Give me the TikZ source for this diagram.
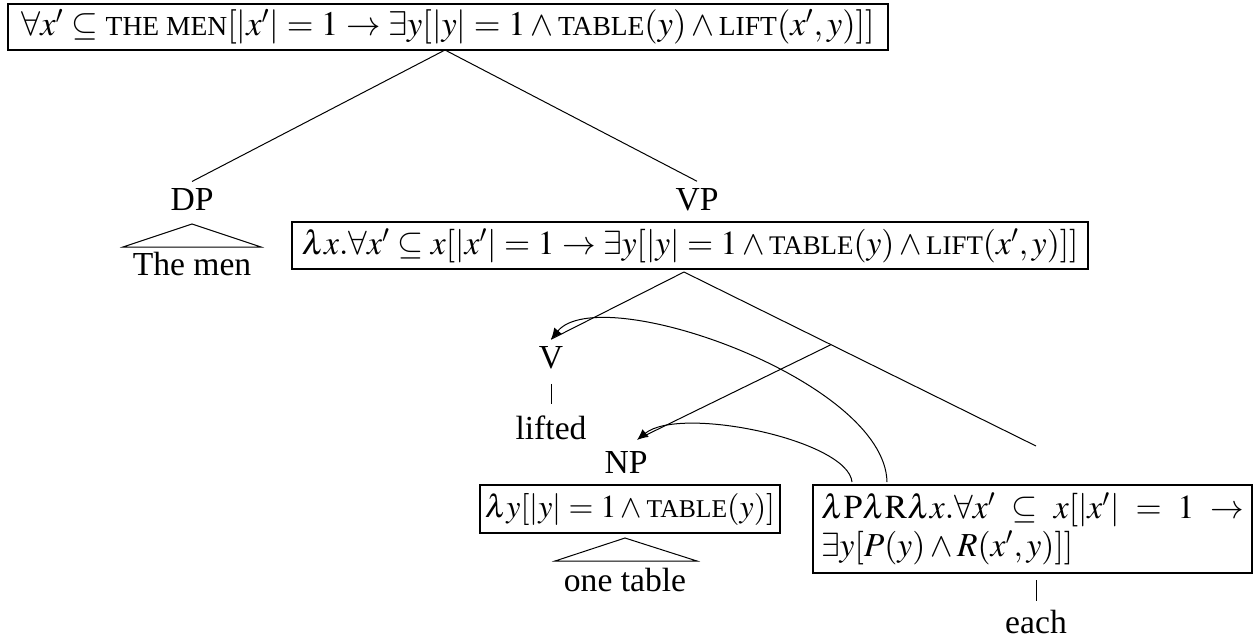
\documentclass[tikz,border=0pt]{standalone}
\usepackage{mathptmx}
\usepackage[no-math]{fontspec}
\setmainfont{Liberation Serif}
\usetikzlibrary{arrows.meta,calc}
\newcommand{\smc}[1]{\mbox{\fontsize{0.8\fsz}{15}\selectfont #1}}
\newdimen\fsz
\fsz=16.8pt
\begin{document}
\begin{tikzpicture}[x=0.5pt,y=-0.5pt,
  font=\fontsize{16.8}{19.5}\selectfont,
  every path/.style={line width=0.5pt},
  fbox/.style={draw, line width=0.55pt, inner sep=0pt, outer sep=0pt},
  lbl/.style={inner xsep=0pt, inner ysep=3.5pt},
  arr/.style={-{Latex[length=5.5pt,width=5pt]}, line width=0.5pt}]
\useasboundingbox (0,0) rectangle (1257,639);

% top box
\node[fbox, minimum width=440pt, minimum height=23pt] (top) at (448,27)
  {\fsz=17.2pt\fontsize{17.2}{19.5}\selectfont
   $\forall x' \subseteq \smc{THE MEN}[|x'| = 1 \to \exists y[|y| = 1 \wedge \smc{TABLE}(y) \wedge \smc{LIFT}(x',y)]]$};
\coordinate (topapex) at (445,50);

\node[lbl] (DP) at (192,200) {DP};
\node[lbl] (VP) at (697,200) {VP};
\draw (topapex) -- (DP.north);
\draw (topapex) -- (VP.north);

% DP triangle
\draw (192,224) -- (123,247) -- (261,247) -- cycle;
\node[lbl] (themen) at (192,264) {The men};

% VP box
\node[fbox, minimum width=398pt, minimum height=23.5pt] (vpbox) at (690,245.5)
  {$\lambda x.\forall x' \subseteq x[|x'| = 1 \to \exists y[|y| = 1 \wedge \smc{TABLE}(y) \wedge \smc{LIFT}(x',y)]]$};
\coordinate (vpapex) at (684,272);
\coordinate (rend) at (1036,446);
\coordinate (junc) at ($(vpapex)!0.4176!(rend)$);

\node[lbl] (V) at (551,358) {V};
\node[lbl] (lifted) at (551,428) {lifted};
\draw (vpapex) -- (V.north);
\draw (vpapex) -- (rend);
\draw[shorten <=3.5pt, shorten >=2.25pt] (V) -- (lifted);

\node[lbl] (NP) at (626,462) {NP};
\coordinate (nptop) at (642,437);
\draw (junc) -- (nptop);

% bottom left box
\node[fbox, minimum width=150pt, minimum height=24pt] (npbox) at (630,509)
  {\fsz=16pt\fontsize{16}{19}\selectfont $\lambda y[|y| = 1 \wedge \smc{TABLE}(y)]$};
\draw (625,538) -- (555,561) -- (697,561) -- cycle;
\node[lbl] (onetable) at (625,580) {one table};

% bottom right box
\node[fbox, minimum width=219.5pt, minimum height=44pt, inner xsep=4pt] (eachbox) at (1032.5,529)
  {\parbox{211.5pt}{\fontsize{16.8}{19}\selectfont
  $\lambda \mathrm{P}\lambda \mathrm{R}\lambda x.\forall x' \subseteq x[|x'| = 1 \to$\linebreak
  $\exists y[P(y) \wedge R(x',y)]]$}};
\node[lbl] (each) at (1036,622) {each};
\draw[shorten <=3.5pt, shorten >=0.75pt] (eachbox.south -| each.north) -- (each.north);

% movement arrows
\coordinate (Ptop) at (852,482);
\coordinate (Rtop) at (887,482);
\coordinate (nptip) at (637,440);
\draw[arr] (Rtop) .. controls (885,380) and (600,280) .. (V.north);
\draw[arr] (Ptop) .. controls (848,440) and (680,405) .. (nptip);
\end{tikzpicture}
\end{document}
